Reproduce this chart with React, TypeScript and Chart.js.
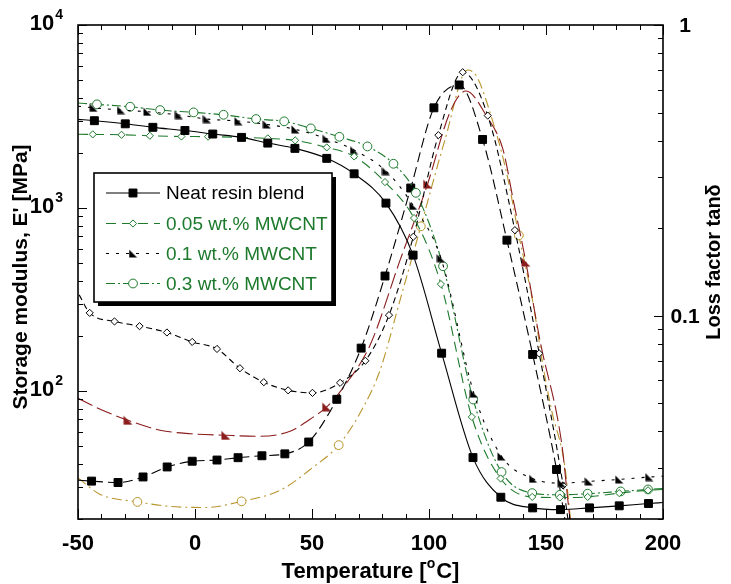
import React, { useEffect, useRef } from 'react';
import { Chart, registerables } from 'chart.js';
Chart.register(...registerables);

// ---- axis ranges & ticks ----
const T_MIN = -50, T_MAX = 200;
const E_MIN = 20, E_MAX = 10000;
const TAN_MIN = 0.02, TAN_MAX = 1;
const xTickValues = [-50, 0, 50, 100, 150, 200];
const xTickLabels = ['-50', '0', '50', '100', '150', '200'];
const eTickValues = [100, 1000, 10000];
const eTickExponents = ['2', '3', '4'];
const tanTickValues = [0.1, 1];
const tanTickLabels = ['0.1', '1'];
const seriesLabels = ['Neat resin blend', '0.05 wt.% MWCNT', '0.1 wt.% MWCNT', '0.3 wt.% MWCNT'];

// ---- storage modulus E' [MPa] ----
const neatE_T = [-50, -43.0, -29.8, -18.0, -4.3, 7.6, 19.9, 31.1, 42.7, 56.3, 68.0, 81.6, 93.2, 105.4, 118.8, 130.7, 144.3, 156.2, 168.6, 181.3, 193.8, 200];
const neatE_V = [3050, 3000, 2885, 2760, 2652, 2537, 2432, 2264, 2118, 1868, 1538, 1064, 553, 161, 43.3, 26.3, 23.0, 22.5, 23.0, 23.6, 24.3, 24.6];
const e005_T = [-50, -43.7, -31.4, -19.3, -5.8, 5.6, 19.6, 31.1, 42.8, 56.3, 68.0, 81.2, 93.6, 105.1, 118.3, 130.6, 144.1, 155.9, 167.8, 181.3, 193.6, 200];
const e005_V = [2530, 2526, 2513, 2482, 2460, 2455, 2432, 2402, 2342, 2144, 1914, 1386, 881, 384, 72.2, 33.3, 26.4, 26.2, 26.4, 27.7, 28.7, 29.0];
const e01_T = [-50, -43.3, -31.6, -20.3, -6.9, 5.1, 18.6, 30.7, 42.9, 56.3, 68.0, 81.6, 93.3, 105.1, 119.2, 131.0, 144.5, 156.7, 168.3, 181.3, 194.1, 200];
const e01_V = [3600, 3529, 3429, 3357, 3221, 3063, 2986, 2864, 2690, 2389, 2073, 1592, 1028, 532, 96.9, 44.0, 33.2, 31.4, 32.1, 32.9, 33.9, 34.3];
const e03_T = [-50, -41.9, -27.7, -14.9, -0.6, 12.2, 26.1, 38.1, 49.5, 61.7, 73.7, 84.8, 94.4, 106.0, 118.9, 131.0, 144.1, 155.9, 167.8, 181.9, 193.6, 200];
const e03_V = [3750, 3685, 3576, 3429, 3331, 3232, 3063, 2976, 2724, 2450, 2171, 1745, 1211, 481, 89.9, 36.1, 27.7, 27.1, 27.5, 28.3, 29.0, 29.3];

// ---- loss factor tan delta ----
const neatTan_T = [-50, -44.2, -32.9, -22.2, -11.9, -1.2, 9.4, 18.4, 28.6, 38.4, 48.6, 60.6, 71.0, 81.2, 92.2, 102.1, 112.9, 122.9, 133.3, 144.3, 154.5, 159.5];
const neatTan_V = [0.0272, 0.0270, 0.0267, 0.0279, 0.0302, 0.0316, 0.0319, 0.0325, 0.0330, 0.0335, 0.0368, 0.0516, 0.0774, 0.137, 0.275, 0.519, 0.622, 0.404, 0.182, 0.0736, 0.0296, 0.017];
const tan005_T = [-49.5, -45.0, -34.4, -23.7, -12.0, -1.2, 9.4, 19.2, 29.4, 39.8, 50.2, 62.0, 72.8, 82.9, 93.3, 104.0, 114.4, 125.1, 136.7, 147.1, 157.3, 161.0];
const tan005_V = [0.118, 0.1023, 0.0956, 0.0921, 0.0876, 0.0813, 0.0769, 0.0660, 0.0591, 0.0554, 0.0543, 0.0588, 0.0700, 0.1005, 0.187, 0.418, 0.688, 0.488, 0.197, 0.0742, 0.0261, 0.016];
const tan01_T = [-50, -40.5, -28.6, -14.9, -2.0, 13.2, 27.8, 40.6, 50.5, 56.3, 64.1, 74.8, 87.6, 99.4, 109.0, 115.8, 124.6, 131.7, 136.0, 141.4, 147.4, 156.7, 160.2, 162.0];
const tan01_V = [0.0520, 0.0477, 0.0437, 0.0404, 0.0393, 0.0388, 0.0385, 0.0401, 0.0448, 0.0486, 0.0577, 0.0792, 0.155, 0.284, 0.502, 0.593, 0.486, 0.371, 0.250, 0.153, 0.0824, 0.0364, 0.0203, 0.017];
const tan01_markT = [-28.6, 13.2, 56.3, 99.4, 141.4];
const tan03_T = [-50, -40.5, -24.6, -10.6, 4.4, 19.9, 36.4, 50.6, 61.4, 72.0, 79.1, 87.6, 96.5, 106.8, 116.5, 120.4, 127.5, 133.2, 138.4, 144.5, 148.8, 152.4, 158.1, 160.2, 161.5];
const tan03_V = [0.0277, 0.0243, 0.0229, 0.0221, 0.0219, 0.0230, 0.0251, 0.0302, 0.0359, 0.0486, 0.0650, 0.113, 0.203, 0.402, 0.700, 0.664, 0.459, 0.309, 0.189, 0.110, 0.0667, 0.0473, 0.0302, 0.0209, 0.0169];
const tan03_markT = [-24.6, 19.9, 61.4, 96.5, 138.4];

const GREEN = '#1d7a2d';
const RED = '#8c1d1d';
const GOLD = '#b8952c';
const FONT = '"Liberation Sans", Arial, Helvetica, sans-serif';

function pts(T: number[], V: number[]) {
  return T.map((t, i) => ({ x: t, y: V[i] }));
}

function triCanvas(color: string, size: number) {
  const c = document.createElement('canvas');
  c.width = size; c.height = size;
  const g = c.getContext('2d')!;
  g.fillStyle = color;
  g.beginPath();
  g.moveTo(0.5, 0.5);
  g.lineTo(0.5, size - 0.5);
  g.lineTo(size - 0.5, size - 0.5);
  g.closePath();
  g.fill();
  return c;
}

function drawMarker(ctx: CanvasRenderingContext2D, style: any, x: number, y: number, r: number, fill: string, stroke: string) {
  ctx.save();
  if (typeof style !== 'string') {
    ctx.drawImage(style, x - style.width / 2, y - style.height / 2);
    ctx.restore();
    return;
  }
  ctx.setLineDash([]);
  ctx.fillStyle = fill;
  ctx.strokeStyle = stroke;
  ctx.lineWidth = 1;
  ctx.beginPath();
  if (style === 'rect') {
    const s = r * Math.SQRT1_2;
    ctx.rect(x - s, y - s, 2 * s, 2 * s);
  } else if (style === 'rectRot') {
    ctx.moveTo(x, y - r); ctx.lineTo(x + r, y); ctx.lineTo(x, y + r); ctx.lineTo(x - r, y); ctx.closePath();
  } else {
    ctx.arc(x, y, r, 0, Math.PI * 2);
  }
  ctx.fill();
  ctx.stroke();
  ctx.restore();
}

export default function App() {
  const ref = useRef<HTMLCanvasElement>(null);

  useEffect(() => {
    const canvas = ref.current!;
    const triBlack = triCanvas('#000', 9);
    const triRed = triCanvas(RED, 10);
    const inE = (t: number) => (t > T_MIN && t < T_MAX ? 1 : 0);
    const endsOff = (T: number[]) => T.map((_, i) => (i === 0 || i === T.length - 1 ? 0 : 1));
    const marks = (T: number[], M: number[]) => T.map((t) => (M.includes(t) ? 1 : 0));

    const base = { borderWidth: 1.1, cubicInterpolationMode: 'monotone', pointBorderWidth: 1, fill: false };

    const datasets: any[] = [
      { ...base, label: seriesLabels[0], yAxisID: 'yE', data: pts(neatE_T, neatE_V), borderColor: '#000', borderDash: [],
        pointStyle: 'rect', pointRadius: neatE_T.map((t) => inE(t) * 5.6), pointBackgroundColor: '#000', pointBorderColor: '#000' },
      { ...base, label: seriesLabels[1], yAxisID: 'yE', data: pts(e005_T, e005_V), borderColor: GREEN, borderDash: [10, 6],
        pointStyle: 'rectRot', pointRadius: e005_T.map((t) => inE(t) * 3.6), pointBackgroundColor: '#fff', pointBorderColor: GREEN },
      { ...base, label: seriesLabels[2], yAxisID: 'yE', data: pts(e01_T, e01_V), borderColor: '#000', borderDash: [3, 7],
        pointStyle: triBlack, pointRadius: e01_T.map((t) => inE(t) * 4.5), pointBackgroundColor: '#000', pointBorderColor: '#000' },
      { ...base, label: seriesLabels[3], yAxisID: 'yE', data: pts(e03_T, e03_V), borderColor: GREEN, borderDash: [9, 3, 2, 3],
        pointStyle: 'circle', pointRadius: e03_T.map((t) => inE(t) * 4.4), pointBackgroundColor: '#fff', pointBorderColor: GREEN },
      { ...base, label: seriesLabels[0] + ' tan', yAxisID: 'yT', data: pts(neatTan_T, neatTan_V), borderColor: '#000', borderDash: [10, 5],
        pointStyle: 'rect', pointRadius: endsOff(neatTan_T).map((m) => m * 5.6), pointBackgroundColor: '#000', pointBorderColor: '#000' },
      { ...base, label: seriesLabels[1] + ' tan', yAxisID: 'yT', data: pts(tan005_T, tan005_V), borderColor: '#000', borderDash: [6, 4],
        pointStyle: 'rectRot', pointRadius: endsOff(tan005_T).map((m) => m * 3.6), pointBackgroundColor: '#fff', pointBorderColor: '#000' },
      { ...base, label: seriesLabels[2] + ' tan', yAxisID: 'yT', data: pts(tan01_T, tan01_V), borderColor: RED, borderDash: [16, 5],
        pointStyle: triRed, pointRadius: marks(tan01_T, tan01_markT).map((m) => m * 5), pointBackgroundColor: RED, pointBorderColor: RED },
      { ...base, label: seriesLabels[3] + ' tan', yAxisID: 'yT', data: pts(tan03_T, tan03_V), borderColor: GOLD, borderDash: [10, 4, 2, 4],
        pointStyle: 'circle', pointRadius: marks(tan03_T, tan03_markT).map((m) => m * 4.4), pointBackgroundColor: '#fff', pointBorderColor: GOLD },
    ];

    const decor = {
      id: 'decor',
      afterDraw(chart: any) {
        const ctx: CanvasRenderingContext2D = chart.ctx;
        const { left, right, top, bottom } = chart.chartArea;
        const xs = chart.scales.x, ye = chart.scales.yE, yt = chart.scales.yT;
        ctx.save();
        ctx.setLineDash([]);
        ctx.strokeStyle = '#000';
        // ticks
        ctx.lineWidth = 1;
        ctx.beginPath();
        for (let t = T_MIN; t <= T_MAX; t += 10) {
          const px = Math.round(xs.getPixelForValue(t)) + 0.5;
          const len = t % 50 === 0 ? 10 : 5;
          ctx.moveTo(px, bottom); ctx.lineTo(px, bottom - len);
          ctx.moveTo(px, top); ctx.lineTo(px, top + len);
        }
        for (let e = 1; e <= 4; e++) {
          for (let m = 1; m <= 9; m++) {
            const v = m * Math.pow(10, e);
            if (v < E_MIN - 1e-9 || v > E_MAX + 1e-9) continue;
            const py = Math.round(ye.getPixelForValue(v)) + 0.5;
            const len = m === 1 ? 9 : 5;
            ctx.moveTo(left, py); ctx.lineTo(left + len, py);
          }
        }
        for (let e = -2; e <= 0; e++) {
          for (let m = 1; m <= 9; m++) {
            const v = m * Math.pow(10, e);
            if (v < TAN_MIN - 1e-9 || v > TAN_MAX + 1e-9) continue;
            const py = Math.round(yt.getPixelForValue(v)) + 0.5;
            const len = m === 1 ? 9 : 5;
            ctx.moveTo(right, py); ctx.lineTo(right - len, py);
          }
        }
        ctx.stroke();
        // frame
        ctx.lineWidth = 1.6;
        ctx.strokeRect(left, top, right - left, bottom - top);

        // tick labels
        ctx.fillStyle = '#000';
        ctx.textBaseline = 'middle';
        ctx.font = `bold 22px ${FONT}`;
        ctx.textAlign = 'center';
        xTickValues.forEach((v, i) => {
          ctx.fillText(xTickLabels[i], xs.getPixelForValue(v), bottom + 25);
        });
        ctx.font = `bold 21px ${FONT}`;
        tanTickValues.forEach((v, i) => {
          ctx.fillText(tanTickLabels[i], right + 22, yt.getPixelForValue(v) + 1);
        });
        eTickValues.forEach((v, i) => {
          const py = ye.getPixelForValue(v);
          ctx.font = `bold 14px ${FONT}`;
          const ew = ctx.measureText(eTickExponents[i]).width;
          const baseRight = 63 - ew - 1;
          ctx.textAlign = 'left';
          ctx.fillText(eTickExponents[i], baseRight + 1, py - 10);
          ctx.font = `bold 22px ${FONT}`;
          ctx.textAlign = 'right';
          ctx.fillText('10', baseRight, py - 1);
        });

        // x title with superscript o
        const tFont = `bold 22px ${FONT}`, sFont = `bold 14px ${FONT}`;
        const p1 = 'Temperature [', p2 = 'o', p3 = 'C]';
        ctx.font = tFont; const w1 = ctx.measureText(p1).width, w3 = ctx.measureText(p3).width;
        ctx.font = sFont; const w2 = ctx.measureText(p2).width + 1;
        let sx = (left + right) / 2 - (w1 + w2 + w3) / 2;
        const ty = 572;
        ctx.textAlign = 'left';
        ctx.font = tFont; ctx.fillText(p1, sx, ty); sx += w1;
        ctx.font = sFont; ctx.fillText(p2, sx, ty - 8); sx += w2;
        ctx.font = tFont; ctx.fillText(p3, sx, ty);

        // y titles
        ctx.textAlign = 'center';
        ctx.font = `bold 21px ${FONT}`;
        ctx.save();
        ctx.translate(21, 277);
        ctx.rotate(-Math.PI / 2);
        ctx.fillText("Storage modulus, E' [MPa]", 0, 0);
        ctx.restore();
        ctx.font = `bold 20px ${FONT}`;
        ctx.save();
        ctx.translate(714, 262);
        ctx.rotate(-Math.PI / 2);
        ctx.fillText('Loss factor tan\u03b4', 0, 0);
        ctx.restore();

        // legend box
        const bx = 94, by = 173, bw = 238, bh = 129;
        ctx.fillStyle = '#000';
        ctx.fillRect(bx + 4, by + 4, bw, bh);
        ctx.fillStyle = '#fff';
        ctx.fillRect(bx, by, bw, bh);
        ctx.lineWidth = 1.6;
        ctx.strokeRect(bx, by, bw, bh);
        const rowY = [193, 223.5, 253.5, 283.5];
        for (let i = 0; i < 4; i++) {
          const ds = chart.data.datasets[i];
          const y = rowY[i];
          ctx.save();
          ctx.strokeStyle = ds.borderColor;
          ctx.lineWidth = 1.1;
          ctx.setLineDash(ds.borderDash || []);
          ctx.beginPath();
          ctx.moveTo(106, y); ctx.lineTo(160, y);
          ctx.stroke();
          ctx.restore();
          const r = ds.pointStyle === 'rect' ? 5.6 : ds.pointStyle === 'rectRot' ? 3.6 : 4.4;
          drawMarker(ctx, ds.pointStyle, 133, y, r, ds.pointBackgroundColor, ds.pointBorderColor);
          ctx.fillStyle = i === 0 ? '#000' : GREEN;
          ctx.font = `19px ${FONT}`;
          ctx.textAlign = 'left';
          ctx.textBaseline = 'middle';
          ctx.fillText(seriesLabels[i], 166, y + 1);
        }
        ctx.restore();
      },
    };

    const chart = new Chart(canvas, {
      type: 'line',
      data: { datasets },
      options: {
        responsive: false,
        animation: false,
        devicePixelRatio: 1,
        layout: { padding: { left: 78, top: 25, right: 68, bottom: 65 } },
        plugins: { legend: { display: false }, tooltip: { enabled: false } },
        scales: {
          x: { type: 'linear', min: T_MIN, max: T_MAX, display: false },
          yE: { type: 'logarithmic', min: E_MIN, max: E_MAX, display: false, position: 'left' },
          yT: { type: 'logarithmic', min: TAN_MIN, max: TAN_MAX, display: false, position: 'right' },
        },
      } as any,
      plugins: [decor],
    });
    return () => chart.destroy();
  }, []);

  return (
    <div style={{ position: 'fixed', left: 0, top: 0, width: 731, height: 584, background: '#fff' }}>
      <canvas ref={ref} width={731} height={584} style={{ display: 'block' }} />
    </div>
  );
}
